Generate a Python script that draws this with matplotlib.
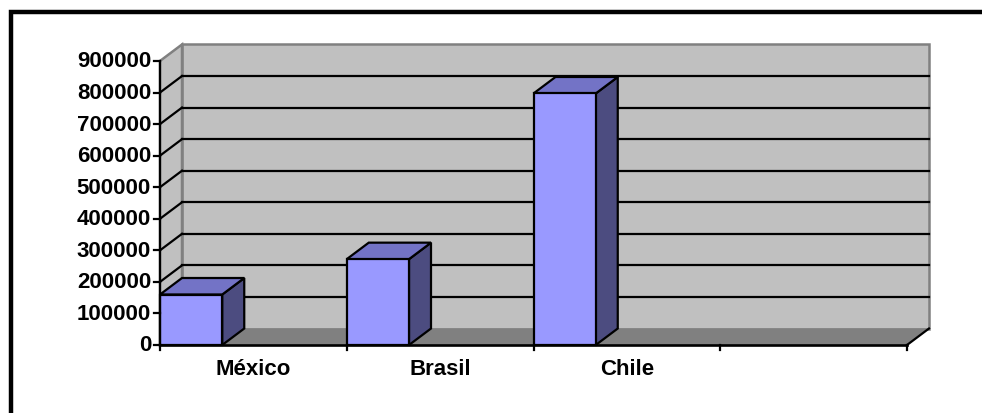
import matplotlib.pyplot as plt
from matplotlib.patches import Polygon, Rectangle

# Datos del grafico
paises = ["México", "Brasil", "Chile", ""]
valores = [160000, 272000, 797000]
ticks_y = [0, 100000, 200000, 300000, 400000, 500000, 600000, 700000, 800000, 900000]

plt.rcParams["font.family"] = ["Liberation Sans", "DejaVu Sans"]

W, H = 982, 414
fig = plt.figure(figsize=(W / 100, H / 100), dpi=100)
ax = fig.add_axes([0, 0, 1, 1])
ax.set_axis_off()

# escala: 1 categoria = 186.75 px, 100000 = 31.56 px, eje en (160, 346) px
PX_CAT = 186.75
PX_VAL = 31.56 / 100000
X0, Y0 = 160, 346
ax.set_xlim(-X0 / PX_CAT, (W - X0) / PX_CAT)
ax.set_ylim((Y0 - H) / PX_VAL, Y0 / PX_VAL)

n = len(paises)
vmax = ticks_y[-1]
DX = 22 / PX_CAT          # profundidad 3D
DY = 16.5 / PX_VAL
ancho = 1 / 3
lw = 1.6

# pared del fondo, pared izquierda y piso
ax.add_patch(Polygon([(DX, DY), (n + DX, DY), (n + DX, vmax + DY), (DX, vmax + DY)],
                     closed=True, facecolor="#C0C0C0", edgecolor="#808080", lw=1.8, zorder=1))
ax.add_patch(Polygon([(0, 0), (DX, DY), (DX, vmax + DY), (0, vmax)],
                     closed=True, facecolor="#C0C0C0", edgecolor="#808080", lw=1.8, zorder=1))
ax.add_patch(Polygon([(0, 0), (n, 0), (n + DX, DY), (DX, DY)],
                     closed=True, facecolor="#808080", edgecolor="none", zorder=2))

# lineas de division
for v in ticks_y[1:-1]:
    ax.plot([DX, n + DX], [v + DY, v + DY], color="black", lw=lw, zorder=3)
    ax.plot([0, DX], [v, v + DY], color="black", lw=lw, zorder=3)
ax.plot([0, n], [0, 0], color="black", lw=1.9, zorder=6)
ax.plot([n, n + DX], [0, DY], color="black", lw=lw, zorder=3)
ax.plot([0, 0], [0, vmax], color="black", lw=lw, zorder=6)

# marcas de los ejes
tick_y = 6 / PX_CAT
tick_x = 5 / PX_VAL
for v in ticks_y:
    ax.plot([-tick_y, 0], [v, v], color="black", lw=lw, zorder=6)
    ax.text(-tick_y - 3 / PX_CAT, v, f"{v}", ha="right", va="center",
            fontsize=16, fontweight="bold", color="black")
for i in range(n + 1):
    ax.plot([i, i], [0, -tick_x], color="black", lw=lw, zorder=6)
for i, p in enumerate(paises):
    ax.text(i + 0.5, -24 / PX_VAL, p, ha="center", va="center",
            fontsize=16, fontweight="bold", color="black")

# barras 3D
for i, v in enumerate(valores):
    x1 = i + ancho
    lado = [(x1, 0), (x1 + DX, DY), (x1 + DX, v + DY), (x1, v)]
    tapa = [(i, v), (x1, v), (x1 + DX, v + DY), (i + DX, v + DY)]
    ax.add_patch(Polygon(lado, closed=True, facecolor="#4C4C80", edgecolor="black", lw=lw, zorder=4))
    ax.add_patch(Polygon(tapa, closed=True, facecolor="#7373C6", edgecolor="black", lw=lw, zorder=4))
    ax.add_patch(Rectangle((i, 0), ancho, v, facecolor="#9999FF", edgecolor="black", lw=lw, zorder=5))

# marco exterior
fig.patches.append(Rectangle((11 / W, -0.1), 1.1, 1 - 13 / H + 0.1, transform=fig.transFigure,
                             fill=False, edgecolor="black", lw=3.2, zorder=10))

fig.savefig("out.png", dpi=100, facecolor="white")
